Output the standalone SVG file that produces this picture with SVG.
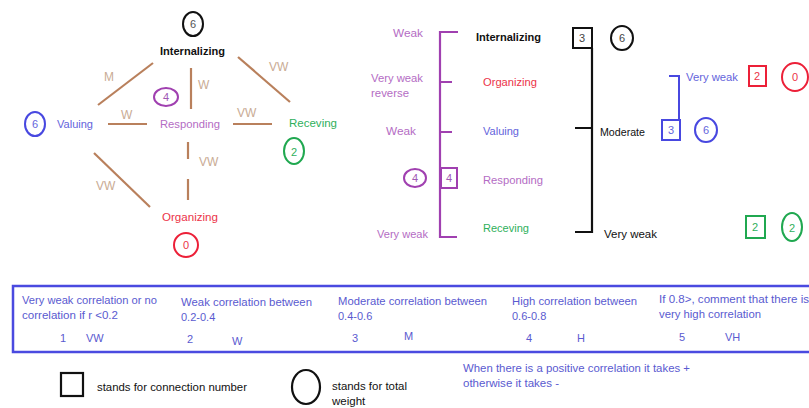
<svg xmlns="http://www.w3.org/2000/svg" width="809" height="408" viewBox="0 0 809 408">
  <style>
    text { font-family: "Liberation Sans", Arial, sans-serif; font-size: 11.5px; }
    .edge { stroke: #b9805c; stroke-width: 2.2; fill: none; }
    .elbl { fill: #c9ab94; font-size: 12px; }
    .blk { fill: #111; }
    .bold { font-weight: bold; }
    .pur { fill: #b46cc4; }
    .red { fill: #ec3348; }
    .blu { fill: #6464dc; }
    .grn { fill: #2fb05c; }
    .tbl { fill: #5a5ad0; font-size: 11px; }
    .num { text-anchor: middle; font-size: 11px; }
    .ring { fill: none; stroke-width: 2; }
    .sq { fill: none; stroke-width: 2; }
  </style>

  <!-- left: weighted graph of the five levels -->
  <g id="connectors">
    <line class="edge" x1="153" y1="63" x2="98" y2="105"/>
    <line class="edge" x1="191" y1="68" x2="191" y2="109"/>
    <line class="edge" x1="238" y1="57" x2="290" y2="102"/>
    <line class="edge" x1="108" y1="124" x2="147" y2="124"/>
    <line class="edge" x1="233" y1="124" x2="272" y2="124"/>
    <line class="edge" x1="188" y1="142" x2="188" y2="159"/>
    <line class="edge" x1="188" y1="179" x2="188" y2="200"/>
    <line class="edge" x1="94" y1="153" x2="150" y2="207"/>
    <text class="elbl" x="104" y="81">M</text>
    <text class="elbl" x="198" y="89">W</text>
    <text class="elbl" x="269" y="71">VW</text>
    <text class="elbl" x="121" y="119">W</text>
    <text class="elbl" x="237" y="117">VW</text>
    <text class="elbl" x="199" y="166">VW</text>
    <text class="elbl" x="96" y="190">VW</text>
  </g>

  <g id="g-internalizing">
    <ellipse class="ring" stroke="#111" cx="193" cy="24" rx="10" ry="12"/>
    <text class="num" x="193" y="28" fill="#555">6</text>
    <text class="blk bold" x="160" y="55" textLength="65" lengthAdjust="spacingAndGlyphs">Internalizing</text>
  </g>
  <g id="g-responding">
    <ellipse class="ring" stroke="#a040b0" cx="166" cy="97" rx="12" ry="9"/>
    <text class="num" x="166" y="101" fill="#a05ab4">4</text>
    <text class="pur" x="160" y="128" textLength="60" lengthAdjust="spacingAndGlyphs">Responding</text>
  </g>
  <g id="g-valuing">
    <ellipse class="ring" stroke="#4848e0" cx="35" cy="124" rx="10" ry="12"/>
    <text class="num" x="35" y="128" fill="#6464dc">6</text>
    <text class="blu" x="57" y="128" textLength="36" lengthAdjust="spacingAndGlyphs">Valuing</text>
  </g>
  <g id="g-receving">
    <text class="grn" x="289" y="127" textLength="48" lengthAdjust="spacingAndGlyphs">Receving</text>
    <ellipse class="ring" stroke="#20a850" cx="294" cy="151" rx="10" ry="13"/>
    <text class="num" x="294" y="156" fill="#2fb05c" font-size="13px">2</text>
  </g>
  <g id="g-organizing">
    <text class="red" x="162" y="221" textLength="56" lengthAdjust="spacingAndGlyphs">Organizing</text>
    <ellipse class="ring" stroke="#ec2038" cx="186" cy="245" rx="12" ry="12"/>
    <text class="num" x="186" y="249" fill="#ec3348">0</text>
  </g>

  <!-- middle: ranking bracket -->
  <g id="rank-bracket">
    <path d="M458 32 H440 V237 H457 M440 82 H452 M440 132 H452" fill="none" stroke="#a040b0" stroke-width="2.2"/>
    <rect class="sq" stroke="#a040b0" x="441" y="168" width="16" height="20" stroke-width="1.8"/>
    <text class="num" x="449" y="182" fill="#a05ab4" font-size="10px">4</text>
    <ellipse class="ring" stroke="#a040b0" cx="415" cy="178" rx="11" ry="9"/>
    <text class="num" x="415" y="182" fill="#a05ab4" font-size="10px">4</text>
    <text class="pur" x="393" y="37" textLength="30" lengthAdjust="spacingAndGlyphs">Weak</text>
    <text class="pur" x="371" y="82" textLength="52" lengthAdjust="spacingAndGlyphs">Very weak</text>
    <text class="pur" x="371" y="97" textLength="38" lengthAdjust="spacingAndGlyphs">reverse</text>
    <text class="pur" x="386" y="135" textLength="30" lengthAdjust="spacingAndGlyphs">Weak</text>
    <text class="pur" x="377" y="238" textLength="51" lengthAdjust="spacingAndGlyphs">Very weak</text>
  </g>
  <g id="m-internalizing"><text class="blk bold" x="476" y="41" textLength="65" lengthAdjust="spacingAndGlyphs">Internalizing</text></g>
  <g id="m-organizing"><text class="red" x="483" y="86" textLength="54" lengthAdjust="spacingAndGlyphs">Organizing</text></g>
  <g id="m-valuing"><text class="blu" x="483" y="135" textLength="36" lengthAdjust="spacingAndGlyphs">Valuing</text></g>
  <g id="m-responding"><text class="pur" x="483" y="184" textLength="60" lengthAdjust="spacingAndGlyphs">Responding</text></g>
  <g id="m-receving"><text class="grn" x="483" y="232" textLength="46" lengthAdjust="spacingAndGlyphs">Receving</text></g>

  <!-- right: black bracket -->
  <g id="black-bracket">
    <rect class="sq" stroke="#111" x="573" y="28" width="19" height="20"/>
    <text class="num" x="582" y="42" fill="#444">3</text>
    <ellipse class="ring" stroke="#111" cx="622" cy="38" rx="11" ry="12"/>
    <text class="num" x="622" y="42" fill="#444">6</text>
    <path d="M592 48 V232 H575 M575 128 H592" fill="none" stroke="#111" stroke-width="2.2"/>
    <text class="blk" x="600" y="136" textLength="45" lengthAdjust="spacingAndGlyphs">Moderate</text>
    <text class="blk" x="604" y="238" textLength="53" lengthAdjust="spacingAndGlyphs">Very weak</text>
  </g>
  <g id="blue-bracket">
    <path d="M669 76 H679 V120" fill="none" stroke="#4848e0" stroke-width="2"/>
    <rect class="sq" stroke="#4848e0" x="662" y="120" width="18" height="20"/>
    <text class="num" x="671" y="134" fill="#6464dc">3</text>
    <ellipse class="ring" stroke="#4848e0" cx="706" cy="130" rx="11" ry="12"/>
    <text class="num" x="706" y="134" fill="#6464dc">6</text>
    <text class="blu" x="686" y="81" textLength="52" lengthAdjust="spacingAndGlyphs">Very weak</text>
  </g>
  <g id="red-pair">
    <rect class="sq" stroke="#ec2038" x="749" y="66" width="17" height="20"/>
    <text class="num" x="757" y="80" fill="#ec3348">2</text>
    <ellipse class="ring" stroke="#ec2038" cx="795" cy="77" rx="13" ry="14"/>
    <text class="num" x="795" y="81" fill="#ec3348">0</text>
  </g>
  <g id="green-pair">
    <rect class="sq" stroke="#20a850" x="746" y="216" width="19" height="22"/>
    <text class="num" x="755" y="231" fill="#2fb05c">2</text>
    <ellipse class="ring" stroke="#20a850" cx="792" cy="227" rx="10" ry="14"/>
    <text class="num" x="792" y="232" fill="#2fb05c" font-size="13px">2</text>
  </g>

  <!-- correlation scale -->
  <g id="scale">
    <rect x="13" y="286" width="810" height="66" fill="none" stroke="#4a4ae0" stroke-width="2.5"/>
    <text class="tbl" x="22" y="304" textLength="135" lengthAdjust="spacingAndGlyphs">Very weak correlation or no</text>
    <text class="tbl" x="22" y="319" textLength="96" lengthAdjust="spacingAndGlyphs">correlation if r &lt;0.2</text>
    <text class="tbl" x="60" y="342">1</text>
    <text class="tbl" x="86" y="342">VW</text>
    <text class="tbl" x="181" y="306" textLength="131" lengthAdjust="spacingAndGlyphs">Weak correlation between</text>
    <text class="tbl" x="181" y="321">0.2-0.4</text>
    <text class="tbl" x="187" y="343">2</text>
    <text class="tbl" x="232" y="345">W</text>
    <text class="tbl" x="338" y="305" textLength="149" lengthAdjust="spacingAndGlyphs">Moderate correlation between</text>
    <text class="tbl" x="338" y="320">0.4-0.6</text>
    <text class="tbl" x="352" y="342">3</text>
    <text class="tbl" x="404" y="340">M</text>
    <text class="tbl" x="512" y="305" textLength="125" lengthAdjust="spacingAndGlyphs">High correlation between</text>
    <text class="tbl" x="512" y="320">0.6-0.8</text>
    <text class="tbl" x="526" y="342">4</text>
    <text class="tbl" x="577" y="342">H</text>
    <text class="tbl" x="659" y="303" textLength="150" lengthAdjust="spacingAndGlyphs">If 0.8&gt;, comment that there is</text>
    <text class="tbl" x="659" y="318" textLength="102" lengthAdjust="spacingAndGlyphs">very high correlation</text>
    <text class="tbl" x="679" y="341">5</text>
    <text class="tbl" x="725" y="341">VH</text>
  </g>

  <!-- legend -->
  <g id="legend">
    <rect x="61" y="373" width="22" height="23" fill="none" stroke="#111" stroke-width="2.2"/>
    <text class="blk" x="97" y="391" font-size="11px" textLength="150" lengthAdjust="spacingAndGlyphs">stands for connection number</text>
    <ellipse cx="306" cy="387" rx="14" ry="17" fill="none" stroke="#111" stroke-width="2.2"/>
    <text class="blk" x="332" y="390" font-size="11px" textLength="75" lengthAdjust="spacingAndGlyphs">stands for total</text>
    <text class="blk" x="332" y="405" font-size="11px">weight</text>
    <text class="tbl" x="463" y="372" textLength="227" lengthAdjust="spacingAndGlyphs">When there is a positive correlation it takes +</text>
    <text class="tbl" x="463" y="387" textLength="96" lengthAdjust="spacingAndGlyphs">otherwise it takes -</text>
  </g>
</svg>
